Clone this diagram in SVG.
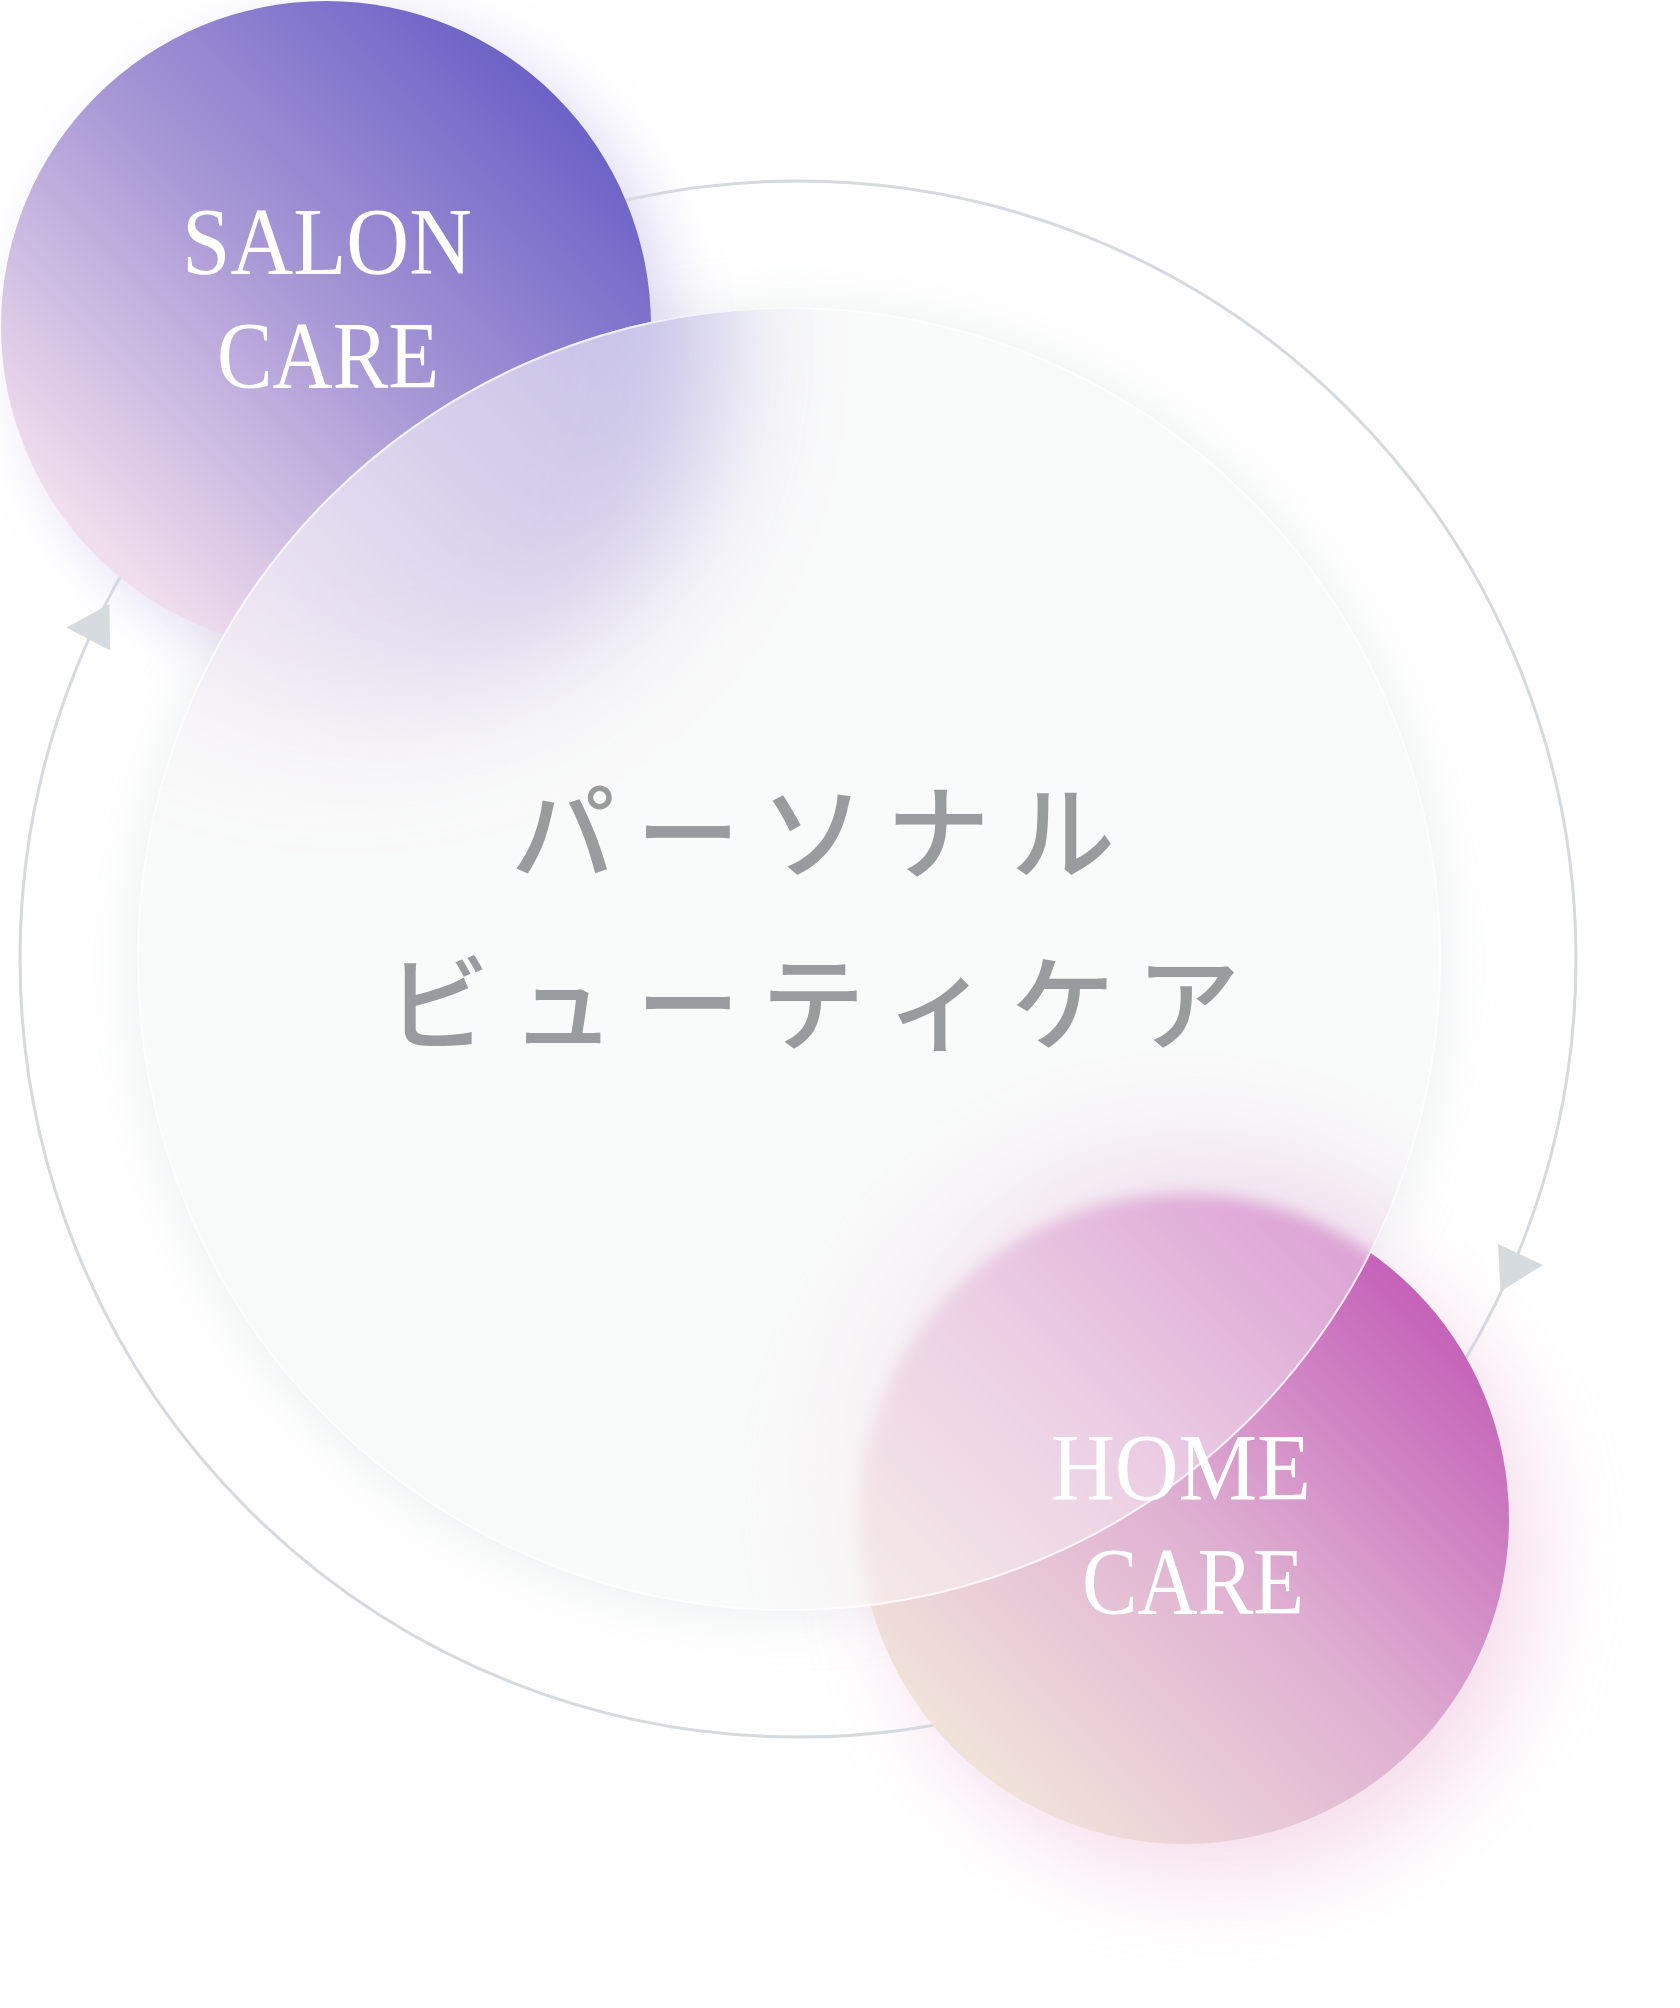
<svg xmlns="http://www.w3.org/2000/svg" width="1680" height="2008" viewBox="0 0 1680 2008">
<style>
.en{font-family:"Liberation Serif","Times New Roman",serif;fill:#ffffff;font-size:96px}
.jp{font-family:"Noto Sans CJK JP","Noto Sans CJK SC",sans-serif;fill:#999c9f;font-size:104px;font-weight:500}
.ring{fill:none;stroke:#d4dadf;stroke-width:3}
.arrow{fill:#d5dbdf}
</style>
<defs>
<linearGradient id="gSalon" x1="0.146" y1="0.854" x2="0.854" y2="0.146">
<stop offset="0" stop-color="#f3e0ee"/>
<stop offset="0.5" stop-color="#a999d6"/>
<stop offset="1" stop-color="#6c62c7"/>
</linearGradient>
<linearGradient id="gHome" x1="0.146" y1="0.854" x2="0.854" y2="0.146">
<stop offset="0" stop-color="#f1e3da"/>
<stop offset="0.5" stop-color="#dfb0d2"/>
<stop offset="1" stop-color="#c462b8"/>
</linearGradient>
<filter id="b8" x="-50%" y="-50%" width="200%" height="200%"><feGaussianBlur stdDeviation="8"/></filter>
<filter id="b30" x="-50%" y="-50%" width="200%" height="200%"><feGaussianBlur stdDeviation="30"/></filter>
<filter id="b45" x="-50%" y="-50%" width="200%" height="200%"><feGaussianBlur stdDeviation="45"/></filter>
<filter id="b60" x="-50%" y="-50%" width="200%" height="200%"><feGaussianBlur stdDeviation="60"/></filter>
<clipPath id="glassClip"><circle cx="789" cy="959" r="652"/></clipPath>
</defs>
<rect width="1680" height="2008" fill="#ffffff"/>
<g id="effects">
<circle cx="789" cy="963" r="652" fill="#aab4b9" opacity="0.22" filter="url(#b30)"/>
<circle cx="350" cy="345" r="325" fill="#a293dc" opacity="0.35" filter="url(#b30)"/>
<circle cx="1214" cy="1555" r="325" fill="#e8a8cf" opacity="0.4" filter="url(#b45)"/>
</g>
<g id="connectors">
<circle class="ring" cx="798" cy="959" r="778"/>
<polygon class="arrow" points="109.5,604 66.5,627.5 110,650.5"/>
<polygon class="arrow" points="1500.5,1291.5 1498,1244 1543,1265"/>
</g>
<g id="node-salon">
<circle cx="326" cy="326" r="325" fill="url(#gSalon)"/>
</g>
<g id="node-home">
<circle cx="1184" cy="1519" r="325" fill="url(#gHome)"/>
</g>
<g id="node-center">
<g clip-path="url(#glassClip)">
<rect x="100" y="280" width="1400" height="1360" fill="#f6f7f7"/>
<circle cx="345" cy="350" r="375" fill="url(#gSalon)" opacity="0.75" filter="url(#b60)"/>
<circle cx="1180" cy="1500" r="360" fill="url(#gHome)" opacity="0.32" filter="url(#b45)"/>
<circle cx="1184" cy="1519" r="325" fill="url(#gHome)" filter="url(#b8)"/>
<rect x="100" y="280" width="1400" height="1360" fill="#ffffff" opacity="0.4"/>
</g>
<circle cx="789" cy="959" r="651" fill="none" stroke="#ffffff" stroke-opacity="0.7" stroke-width="2"/>
<text class="jp" x="511 636 761 886 1011" y="872">パーソナル</text>
<text class="jp" x="386 511 636 761 886 1011 1136" y="1043">ビューティケア</text>
</g>
<g id="label-salon">
<text class="en" x="182" y="274" textLength="290" lengthAdjust="spacingAndGlyphs">SALON</text>
<text class="en" x="217" y="388" textLength="222" lengthAdjust="spacingAndGlyphs">CARE</text>
</g>
<g id="label-home">
<text class="en" x="1051" y="1500" textLength="260" lengthAdjust="spacingAndGlyphs">HOME</text>
<text class="en" x="1082" y="1614" textLength="222" lengthAdjust="spacingAndGlyphs">CARE</text>
</g>
</svg>
